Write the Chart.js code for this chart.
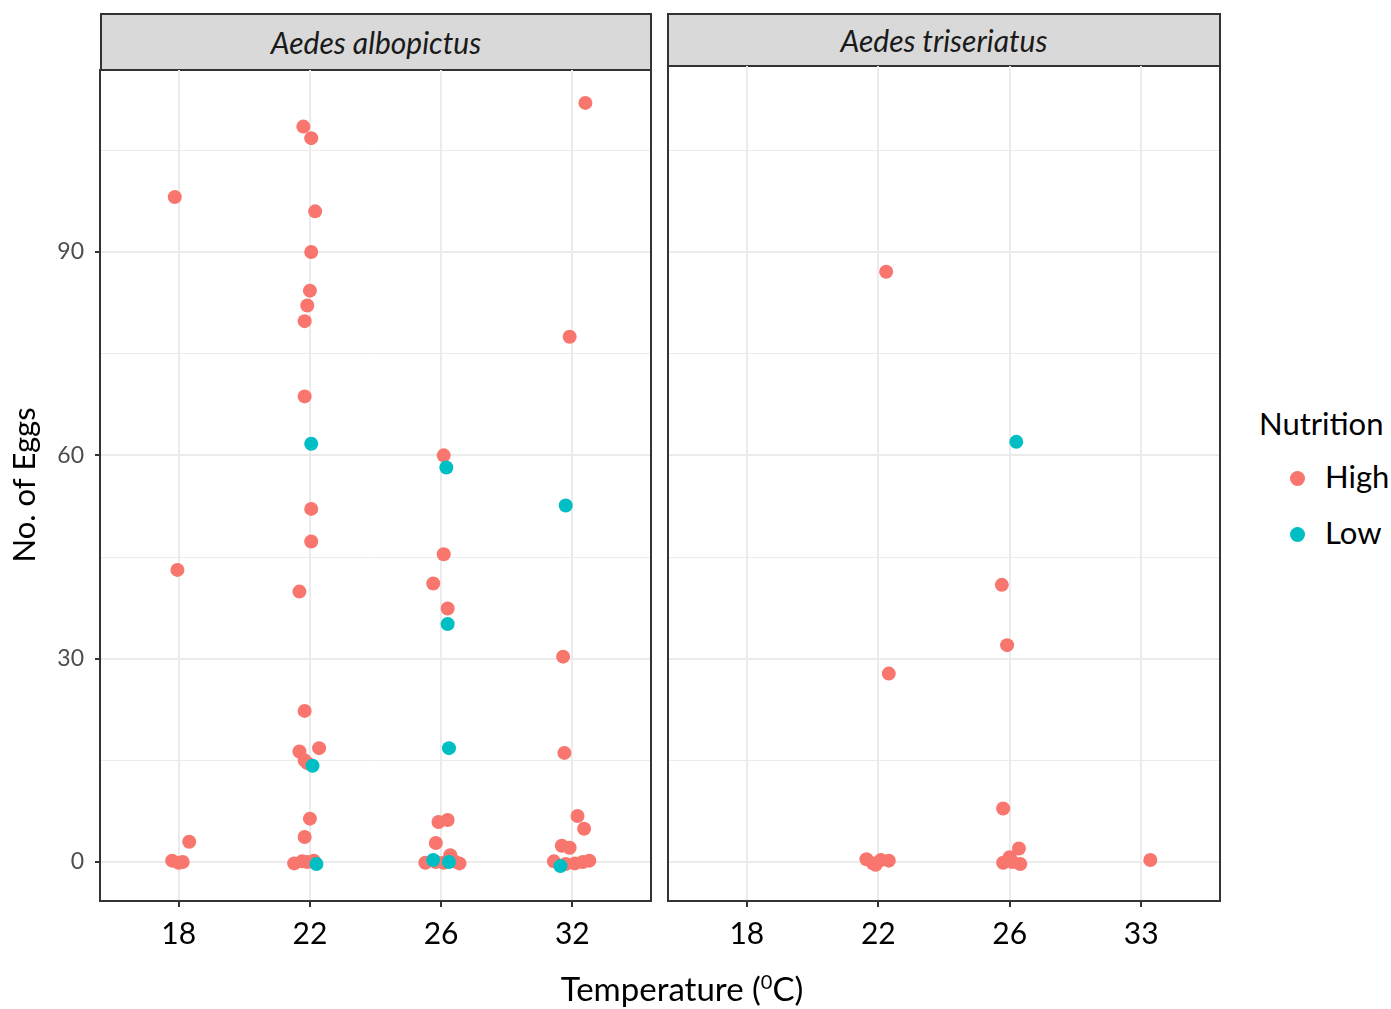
<!DOCTYPE html>
<html>
<head>
<meta charset="utf-8">
<script src="https://cdn.jsdelivr.net/npm/chart.js@4.4.1/dist/chart.umd.min.js"></script>
<style>
  body { margin: 0; background: #fff; font-family: Lato, "Open Sans", sans-serif; }
  #wrap { position: relative; width: 1391px; height: 1009px; overflow: hidden; }
  canvas { position: absolute; }
  .strip { position: absolute; box-sizing: border-box; background: #D9D9D9; border: 2px solid #333;
           font-style: italic; font-size: 30px; text-align: center; color: #1a1a1a; }
  .xtitle { position: absolute; left: 432px; width: 500px; top: 968px; text-align: center; font-size: 33px; color: #000; }
  .xtitle sup { font-size: 20px; }
  #legend { position: absolute; left: 1259px; top: 398px; font-size: 31px; color: #000; }
  #legend .item { position: relative; height: 56px; line-height: 56px; padding-left: 66px; }
  #legend .dot { position: absolute; left: 31px; top: 23px; width: 15px; height: 15px; border-radius: 50%; }
</style>
</head>
<body>
<div id="wrap">
  <div class="strip" id="s1" style="left:100px;top:13px;width:552px;height:58px;line-height:54px;"></div>
  <div class="strip" id="s2" style="left:667px;top:13px;width:554px;height:54px;line-height:50px;"></div>
  <canvas id="c1" width="655" height="940" style="left:0;top:69px;"></canvas>
  <canvas id="c2" width="565" height="944" style="left:660px;top:65px;"></canvas>
  <div class="xtitle">Temperature (<sup>0</sup>C)</div>
  <div id="legend"></div>
</div>
<script>
const panelTitles = ['Aedes albopictus', 'Aedes triseriatus'];
const tempLabelsAlb = ['18', '22', '26', '32'];
const tempLabelsTri = ['18', '22', '26', '33'];
const yTicks = [0, 15, 30, 45, 60, 75, 90, 105];
const seriesNames = ['High', 'Low'];
const seriesColors = ['#F8766D', '#00BFC4'];

// x = temperature slot (1..4) plus the jitter
const albHighX = [0.97, 0.99, 1.08, 0.95, 1.00, 1.03,
  1.95, 2.01, 2.04, 2.01, 2.00, 1.98, 1.96, 1.96, 2.01, 2.01, 1.92, 1.96, 1.92, 2.07, 1.96, 1.98, 2.00, 1.96, 1.88, 1.94, 1.98, 2.03,
  3.02, 3.02, 2.94, 3.05, 2.98, 3.05, 2.96, 3.07, 2.88, 2.96, 3.02, 3.10, 3.14,
  4.10, 3.98, 3.93, 3.94, 4.04, 4.09, 3.92, 3.98, 3.86, 3.95, 4.02, 4.08, 4.13];
const albHighY = [98.1, 43.1, 3.0, 0.2, -0.1, 0.0,
  108.5, 106.8, 96.0, 90.0, 84.3, 82.1, 79.8, 68.7, 52.1, 47.3, 39.9, 22.3, 16.3, 16.8, 15.0, 14.6, 6.4, 3.7, -0.2, 0.1, 0.0, 0.2,
  60.0, 45.4, 41.1, 37.4, 5.9, 6.2, 2.8, 1.0, -0.1, 0.0, -0.1, 0.1, -0.2,
  112.0, 77.5, 30.3, 16.1, 6.8, 4.9, 2.4, 2.1, 0.1, -0.3, -0.2, 0.0, 0.2];
const albLowX = [2.01, 3.04, 3.95, 3.05, 3.06, 2.02, 2.05, 2.94, 3.06, 3.91];
const albLowY = [61.7, 58.2, 52.6, 35.1, 16.8, 14.2, -0.3, 0.3, 0.0, -0.6];

const triHighX = [2.06, 2.08, 1.91, 1.98, 2.02, 2.08, 1.96,
  2.94, 2.98, 2.95, 3.07, 2.95, 3.00, 3.02, 3.08, 4.07];
const triHighY = [87.1, 27.8, 0.4, -0.4, 0.3, 0.2, -0.2,
  40.9, 32.0, 7.9, 2.0, -0.1, 0.7, 0.0, -0.3, 0.3];
const triLowX = [3.05];
const triLowY = [62.0];

const pts = (xs, ys) => xs.map((x, i) => ({ x, y: ys[i] }));

const frame = {
  id: 'frame',
  afterDraw(chart) {
    const { ctx, chartArea: a } = chart;
    ctx.save();
    ctx.strokeStyle = '#333';
    ctx.lineWidth = 2;
    ctx.strokeRect(a.left, a.top, a.right - a.left, a.bottom - a.top);
    ctx.restore();
  }
};

function makePanel(id, labels, high, low, yMax, isLeft) {
  const gridColor = '#EBEBEB';
  new Chart(document.getElementById(id), {
    type: 'scatter',
    data: {
      datasets: [
        { label: seriesNames[0], data: high, backgroundColor: seriesColors[0], borderWidth: 0, pointRadius: 7, order: 2 },
        { label: seriesNames[1], data: low, backgroundColor: seriesColors[1], borderWidth: 0, pointRadius: 7, order: 1 },
      ],
    },
    options: {
      responsive: false,
      animation: false,
      layout: { autoPadding: false, padding: { left: 0, right: isLeft ? 4 : 5, top: 0, bottom: 0 } },
      plugins: { legend: { display: false }, tooltip: { enabled: false } },
      scales: {
        x: {
          type: 'linear', min: 0.4, max: 4.6,
          afterBuildTicks: s => { s.ticks = labels.map((_, i) => ({ value: i + 1 })); },
          afterFit: s => { s.height = 108; s.paddingLeft = 0; s.paddingRight = 0; },
          ticks: { callback: (v, i) => labels[i], color: '#000', font: { family: 'Lato', size: 30 }, padding: 9, maxRotation: 0, autoSkip: false },
          grid: { color: gridColor, lineWidth: 2, tickColor: '#333', tickLength: 6 },
          border: { display: false },
        },
        y: {
          type: 'linear', min: -5.75, max: yMax,
          afterBuildTicks: s => { s.ticks = yTicks.map(v => ({ value: v })); },
          afterFit: s => { s.width = isLeft ? 100 : 8; s.paddingTop = 0; s.paddingBottom = 0; },
          ticks: {
            display: isLeft,
            callback: v => (v % 30 === 0 ? String(v) : ''),
            color: '#4D4D4D', font: { family: 'Lato', size: 23 }, padding: 11, autoSkip: false,
          },
          grid: {
            color: gridColor,
            lineWidth: c => (c.tick && c.tick.value % 30 === 0 ? 2 : 1),
            drawTicks: isLeft,
            tickColor: c => (c.tick && c.tick.value % 30 === 0 ? '#333' : 'rgba(0,0,0,0)'),
            tickLength: 5,
          },
          border: { display: false },
          title: {
            display: isLeft, text: 'No. of Eggs', color: '#000',
            font: { family: 'Lato', size: 31 }, padding: { top: 6, bottom: 0 },
          },
        },
      },
    },
    plugins: [frame],
  });
}

document.getElementById('s1').textContent = panelTitles[0];
document.getElementById('s2').textContent = panelTitles[1];

makePanel('c1', tempLabelsAlb, pts(albHighX, albHighY), pts(albLowX, albLowY), 117.0, true);
makePanel('c2', tempLabelsTri, pts(triHighX, triHighY), pts(triLowX, triLowY), 117.6, false);

const legend = document.getElementById('legend');
legend.innerHTML = '<div style="height:50px;line-height:50px;">Nutrition</div>' +
  seriesNames.map((n, i) =>
    `<div class="item"><span class="dot" style="background:${seriesColors[i]}"></span>${n}</div>`).join('');
</script>
</body>
</html>
